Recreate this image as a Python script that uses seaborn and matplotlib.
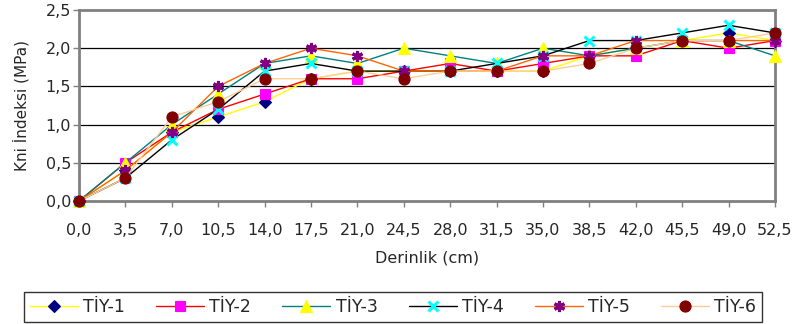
import matplotlib
matplotlib.use("Agg")
import matplotlib.pyplot as plt
import seaborn as sns
import numpy as np
import pandas as pd

depth = [0.0, 3.5, 7.0, 10.5, 14.0, 17.5, 21.0, 24.5, 28.0, 31.5, 35.0, 38.5, 42.0, 45.5, 49.0, 52.5]
x_labels = ["0,0", "3,5", "7,0", "10,5", "14,0", "17,5", "21,0", "24,5", "28,0", "31,5",
            "35,0", "38,5", "42,0", "45,5", "49,0", "52,5"]
y_ticks = [0.0, 0.5, 1.0, 1.5, 2.0, 2.5]
y_labels = ["0,0", "0,5", "1,0", "1,5", "2,0", "2,5"]

tiy1 = [0.0, 0.4, 0.9, 1.1, 1.3, 1.6, 1.7, 1.7, 1.7, 1.7, 1.7, 1.9, 2.0, 2.1, 2.2, 2.1]
tiy2 = [0.0, 0.5, 0.9, 1.2, 1.4, 1.6, 1.6, 1.7, 1.8, 1.7, 1.8, 1.9, 1.9, 2.1, 2.0, 2.1]
tiy3 = [0.0, 0.5, 1.0, 1.4, 1.8, 1.9, 1.8, 2.0, 1.9, 1.8, 2.0, 1.9, 2.0, 2.1, 2.1, 1.9]
tiy4 = [0.0, 0.3, 0.8, 1.2, 1.7, 1.8, 1.7, 1.7, 1.7, 1.8, 1.9, 2.1, 2.1, 2.2, 2.3, 2.2]
tiy5 = [0.0, 0.4, 0.9, 1.5, 1.8, 2.0, 1.9, 1.7, 1.7, 1.7, 1.9, 1.9, 2.1, 2.1, 2.1, 2.1]
tiy6 = [0.0, 0.3, 1.1, 1.3, 1.6, 1.6, 1.7, 1.6, 1.7, 1.7, 1.7, 1.8, 2.0, 2.1, 2.1, 2.2]

names = ["TİY-1", "TİY-2", "TİY-3", "TİY-4", "TİY-5", "TİY-6"]
series = [tiy1, tiy2, tiy3, tiy4, tiy5, tiy6]

line_colors = ["#FFFF00", "#FF0000", "#008080", "#000000", "#FF6600", "#FFCC99"]
marker_colors = ["#000080", "#FF00FF", "#FFFF00", "#00FFFF", "#800080", "#800000"]
markers = ["D", "s", "^", "x", (6, 2, 0), "o"]
msizes = [6, 7, 8, 7.5, 8, 8]

sns.set_theme(style="white")
plt.rcParams['font.family'] = ['DejaVu Sans']

fig = plt.figure(figsize=(7.95, 3.24), dpi=100)
ax = fig.add_axes([79/795, 1-201/324, (775-79)/795, (201-10)/324])

for i, (name, vals) in enumerate(zip(names, series)):
    df = pd.DataFrame({"depth": depth, "val": vals})
    mc = marker_colors[i]
    mew = 2.2 if markers[i] in ("x",) or isinstance(markers[i], tuple) else 0.8
    sns.lineplot(data=df, x="depth", y="val", ax=ax, color=line_colors[i], lw=1.0,
                 marker=markers[i], markersize=msizes[i], markerfacecolor=mc,
                 markeredgecolor=mc, markeredgewidth=mew, label=name,
                 clip_on=False, zorder=3 + i)

ax.set_xlim(depth[0], depth[-1])
ax.set_ylim(0, 2.5)
ax.set_xticks(depth)
ax.set_xticklabels(x_labels, fontsize=11.5)
ax.set_yticks(y_ticks)
ax.set_yticklabels(y_labels, fontsize=11.5)
for yv in y_ticks[1:-1]:
    ax.axhline(yv, color="black", lw=0.9, zorder=1)
ax.grid(False)
for s in ax.spines.values():
    s.set_color("#808080")
    s.set_linewidth(2)
ax.tick_params(axis="both", which="both", direction="out", length=4.3, width=1,
               color="#808080", bottom=True, left=True)
ax.tick_params(axis="x", pad=11.5)
ax.tick_params(axis="y", pad=1.5)
ax.set_xlabel("Derinlik (cm)", fontsize=11.5)
ax.set_ylabel("Kni İndeksi (MPa)", fontsize=11)
ax.xaxis.set_label_coords(0.5, -0.257)
ax.yaxis.set_label_coords(-0.071, 0.5)

handles, labels = ax.get_legend_handles_labels()
ax.get_legend().remove()
leg = fig.legend(handles, labels, loc="center", bbox_to_anchor=(393/795, 1-307/324), ncol=6,
                 frameon=True, fancybox=False, fontsize=12.5, handlelength=2.76,
                 columnspacing=1.8, borderpad=0.32, handletextpad=0.3)
leg.get_frame().set_edgecolor("black")
leg.get_frame().set_linewidth(1.0)

fig.savefig("out.png", dpi=100)
